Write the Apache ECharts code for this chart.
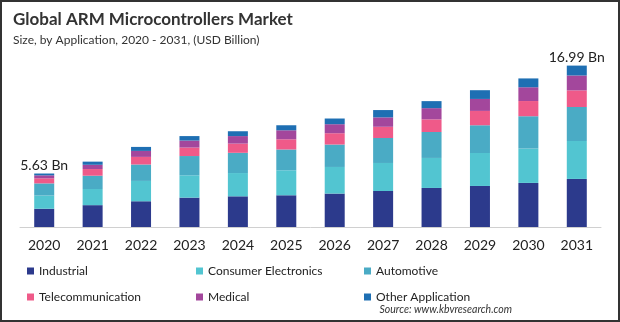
<!DOCTYPE html>
<html><head><meta charset="utf-8">
<script src="https://cdn.jsdelivr.net/npm/echarts@6/dist/echarts.min.js"></script>
<style>html,body{margin:0;padding:0;background:#fff}#c{width:620px;height:322px}</style>
</head><body><div id="c"></div>
<script>
const years = ['2020','2021','2022','2023','2024','2025','2026','2027','2028','2029','2030','2031'];
const industrial          = [1.92,2.30,2.71,3.09,3.23,3.34,3.52,3.79,4.11,4.32,4.64,5.06];
const consumerElectronics = [1.39,1.70,2.14,2.35,2.45,2.63,2.80,2.95,3.16,3.47,3.62,3.99];
const automotive          = [1.28,1.40,1.73,2.03,2.13,2.19,2.36,2.63,2.73,2.92,3.40,3.58];
const telecommunication   = [0.53,0.70,0.80,0.89,0.97,1.07,1.19,1.18,1.33,1.51,1.60,1.75];
const medical             = [0.32,0.45,0.63,0.74,0.79,0.95,0.95,0.99,1.18,1.26,1.45,1.57];
const otherApplication    = [0.19,0.33,0.42,0.47,0.51,0.53,0.60,0.77,0.74,0.92,0.93,1.04];
const totalLabels = ['5.63 Bn','','','','','','','','','','','16.99 Bn'];
const seriesNames = ['Industrial','Consumer Electronics','Automotive','Telecommunication','Medical','Other Application'];
const seriesData = [industrial, consumerElectronics, automotive, telecommunication, medical, otherApplication];
const colors = ['#2c3a8c','#52c5d1','#4aabc5','#ef5a89','#a3479c','#1e6fb3'];

const FONT = 'Lato';
const chart = echarts.init(document.getElementById('c'));
const legendPos = [[27,264],[196,264],[364,264],[27,290],[196,290],[364,290]];
const legends = seriesNames.map((n,i)=>({
  data:[n], left:legendPos[i][0], top:legendPos[i][1], padding:0,
  itemWidth:7, itemHeight:7, icon:'rect', selectedMode:false,
  textStyle:{fontFamily:FONT,fontSize:12,color:'#222',lineHeight:14}
}));
const series = seriesNames.map((n,i)=>({
  name:n, type:'bar', stack:'total', barWidth:20, data:seriesData[i],
  itemStyle:{color:colors[i]},
  label: i===seriesNames.length-1 ? {
    show:true, position:'top', distance:1, fontFamily:FONT, fontSize:14, color:'#222',
    formatter:p=>totalLabels[p.dataIndex]
  } : {show:false}
}));
chart.setOption({
  animation:false,
  color:colors,
  title:{
    text:'Global ARM Microcontrollers Market',
    subtext:'Size, by Application, 2020 - 2031, (USD Billion)',
    left:13, top:11, itemGap:6, padding:0,
    textStyle:{fontFamily:FONT,fontSize:17,fontWeight:'bold',color:'#333'},
    subtextStyle:{fontFamily:FONT,fontSize:12,color:'#333'}
  },
  legend:legends,
  grid:{left:20,right:19,top:37,bottom:95},
  xAxis:{type:'category',data:years,
    axisLine:{lineStyle:{color:'#d0d0d0',width:1}},
    axisTick:{show:false},
    axisLabel:{fontFamily:FONT,fontSize:14,color:'#222',margin:11}
  },
  yAxis:{type:'value',min:0,max:20,show:false},
  series:series,
  graphic:[
    {type:'rect',shape:{x:1,y:1,width:618,height:320},style:{fill:'none',stroke:'#333',lineWidth:2},silent:true},
    {type:'text',right:108,top:304,style:{text:'Source: www.kbvresearch.com',font:'italic 10.5px '+FONT,fill:'#333'}}
  ]
});
</script></body></html>
